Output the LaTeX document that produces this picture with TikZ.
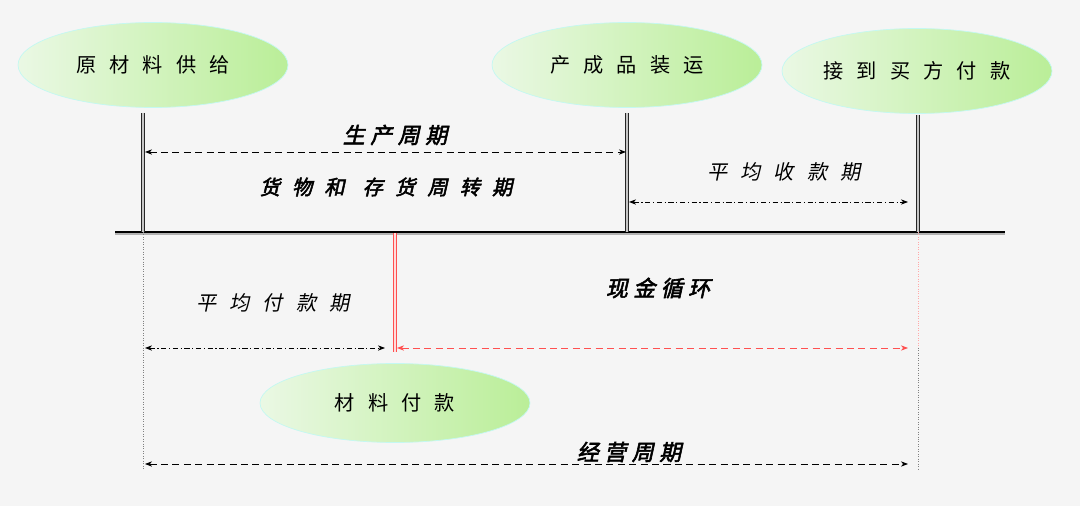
\documentclass[tikz,border=0pt]{standalone}
\usepackage{fontspec}
\usetikzlibrary{shapes.geometric,arrows.meta}
\newfontfamily\cjksp[LetterSpace=65]{Noto Sans CJK SC}
\newfontfamily\cjkit[LetterSpace=65,FakeSlant=0.2]{Noto Sans CJK SC}
\newfontfamily\cjkbi[LetterSpace=25,FakeSlant=0.22,FakeBold=2.5]{Noto Sans CJK SC}
\newfontfamily\cjkbisp[LetterSpace=60,FakeSlant=0.22,FakeBold=2.5]{Noto Sans CJK SC}
\definecolor{bgcol}{HTML}{F5F5F5}
\definecolor{leafL}{HTML}{EAF8E4}
\definecolor{leafR}{HTML}{BAEE98}
\definecolor{rimcol}{HTML}{C4F8F2}
\definecolor{cashred}{HTML}{FF5050}
\begin{document}
\begin{tikzpicture}[x=0.02cm, y=-0.02cm, >={Stealth[length=4pt,width=3pt,inset=1.2pt]},
  event/.style={ellipse, draw=rimcol, thin, left color=leafL, right color=leafR, minimum width=5.4cm, minimum height=1.7cm, inner sep=0pt, font=\cjksp\fontsize{11.5}{14}\selectfont},
  boldlbl/.style={inner sep=0pt, font=\cjkbi\fontsize{12.5}{15}\selectfont},
  itlbl/.style={inner sep=0pt, font=\cjkit\fontsize{11.5}{14}\selectfont},
  post/.style={draw=black!85, double=gray!45, double distance=0.6pt, line width=0.6pt},
  longdash/.style={<->, line width=0.5pt, dash pattern=on 4pt off 2.5pt},
  dashdot/.style={<->, line width=0.5pt, dash pattern=on 3pt off 1.5pt on 0.6pt off 1.5pt}]
  \fill[bgcol] (0,0) rectangle (1080,506);
  % events
  \node[event] (supply) at (153,65) {原材料供给};
  \node[event] (ship) at (627,65) {产成品装运};
  \node[event] (receive) at (917,71) {接到买方付款};
  \node[event, minimum height=1.58cm] (pay) at (395,403) {材料付款};
  % time line
  \coordinate (L) at (115,232); \coordinate (R) at (1005,232);
  \coordinate (t1) at (143,113); \coordinate (b1) at (143,232); \coordinate (e1) at (143,470);
  \coordinate (t2) at (627,113); \coordinate (b2) at (627,232);
  \coordinate (t3) at (918,115); \coordinate (b3) at (918,232);
  \coordinate (m3) at (918,348); \coordinate (e3) at (918,470);
  \coordinate (r1) at (395,233); \coordinate (r2) at (395,352);
  \draw[gray!60, line width=1.2pt] ([yshift=-1.2pt]L) -- ([yshift=-1.2pt]R);
  \draw[black, line width=1.6pt] (L) -- (R);
  \draw[post] (t1) -- (b1);
  \draw[post] (t2) -- (b2);
  \draw[post] (t3) -- (b3);
  \draw[post, draw=cashred, double=white!80!cashred] (r1) -- (r2);
  \draw[gray, densely dotted, line width=0.4pt] (b1) -- (e1);
  \draw[cashred!50, densely dotted, line width=0.4pt] (b3) -- (m3);
  \draw[gray, densely dotted, line width=0.4pt] (m3) -- (e3);
  % spans
  \coordinate (p1) at (145,152); \coordinate (p2) at (626,152);
  \coordinate (c1) at (629,202); \coordinate (c2) at (908,202);
  \coordinate (a1) at (145,348); \coordinate (a2) at (385,348);
  \coordinate (k1) at (397,348); \coordinate (k2) at (908,348);
  \coordinate (o1) at (145,464); \coordinate (o2) at (908,464);
  \draw[longdash] (p1) -- (p2);
  \draw[dashdot] (c1) -- (c2);
  \draw[dashdot] (a1) -- (a2);
  \draw[longdash, cashred] (k1) -- (k2);
  \draw[longdash] (o1) -- (o2);
  % labels
  \node[boldlbl] (prod) at (395,135) {生产周期};
  \node[inner sep=0pt, font=\cjkbisp\fontsize{11.5}{14}\selectfont] (turn) at (386,187) {货物和\kern0.9em 存货周转期};
  \node[itlbl] (coll) at (784,172) {平均收款期};
  \node[itlbl] (payp) at (273,303) {平均付款期};
  \node[boldlbl] (cash) at (658,288) {现金循环};
  \node[boldlbl] (oper) at (629,452) {经营周期};
\end{tikzpicture}
\end{document}
